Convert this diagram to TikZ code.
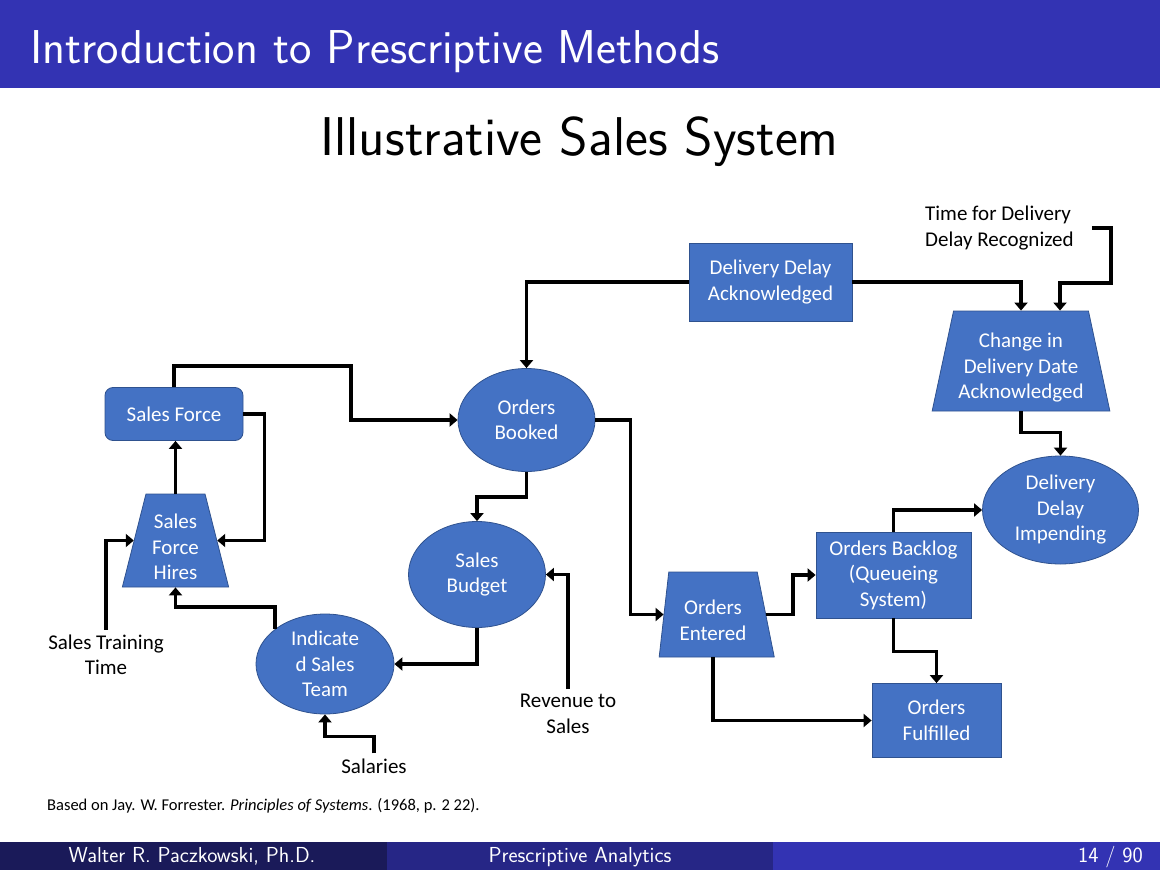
\documentclass[tikz,border=0pt]{standalone}
\usepackage{fontspec}
\newfontfamily\carlito{Carlito}
\usetikzlibrary{shapes.geometric,arrows.meta}

\definecolor{headblue}{RGB}{51,51,179}
\definecolor{footdark}{RGB}{26,26,89}
\definecolor{footmid}{RGB}{38,38,134}
\definecolor{nodeblue}{HTML}{4472C4}
\definecolor{nodeedge}{HTML}{2F528F}

\begin{document}
\begin{tikzpicture}[x=1pt,y=-1pt,
  diag/.style={font=\carlito\fontsize{21}{25.5}\selectfont},
  blk/.style={diag, draw=nodeedge, line width=0.8pt, fill=nodeblue,
    text=white, align=center, inner sep=0pt},
  rectblk/.style={blk, rectangle},
  ellblk/.style={blk, ellipse},
  trapblk/.style={blk, trapezium, trapezium stretches=true},
  lbl/.style={diag, text=black, align=center, inner sep=5pt},
  arr/.style={line width=3.8pt, -{Triangle[length=8pt,width=13pt]}},
  foottext/.style={inner sep=0pt, text=white, font=\sffamily\fontsize{21.7}{24}\selectfont}
]
\useasboundingbox (0,0) rectangle (1160,870);

% slide frame: title bar and footline
\fill[headblue] (0,0) rectangle (1160,88);
\node[anchor=base west, inner sep=0pt, text=white,
  font=\sffamily\fontsize{47.5}{52}\selectfont] (ftitle) at (30,63)
  {Introduction to Prescriptive Methods};
\node[anchor=base, inner sep=0pt,
  font=\sffamily\fontsize{54.6}{62}\selectfont] (subtitle) at (579.5,155)
  {Illustrative Sales System};

\fill[footdark] (0,842) rectangle (387,870);
\fill[footmid] (387,842) rectangle (773,870);
\fill[headblue] (773,842) rectangle (1160,870);
\node[foottext, anchor=base] (fauthor) at (192,862) {Walter R. Paczkowski, Ph.D.};
\node[foottext, anchor=base] (fshort) at (580,862) {Prescriptive Analytics};
\node[foottext, anchor=base east] (fpage) at (1143,862) {14 / 90};

\node[anchor=base west, inner sep=0pt,
  font=\carlito\fontsize{16.5}{19}\selectfont] (source) at (47,810)
  {Based on Jay. W. Forrester. \textit{Principles of Systems}. (1968, p. 2 22).};

% stocks, flows and auxiliaries
\node[rectblk, minimum width=163pt, minimum height=78pt] (dda) at (770.5,282)
  {Delivery Delay\\Acknowledged};
\node[lbl, anchor=west, align=left] (tdd) at (920,228)
  {Time for Delivery\\Delay Recognized};
\node[trapblk, trapezium left angle=76.5, trapezium right angle=76.5,
  minimum width=178pt, minimum height=100pt] (cdd) at (1021,361)
  {\rule{0pt}{28pt}Change in\\Delivery Date\\Acknowledged};
\node[ellblk, minimum width=156pt, minimum height=108pt] (ddi) at (1060.5,510)
  {Delivery\\Delay\\Impending};

\node[rectblk, rounded corners=8pt, minimum width=138pt, minimum height=53pt]
  (sf) at (174,414) {Sales Force};
\node[ellblk, minimum width=137pt, minimum height=103pt] (ob) at (526.5,420)
  {Orders\\Booked};
\node[trapblk, trapezium left angle=76.7, trapezium right angle=76.7,
  minimum width=107pt, minimum height=93pt] (shf) at (175.5,540.5)
  {\rule{0pt}{28pt}Sales\\Force\\Hires};
\node[ellblk, minimum width=137pt, minimum height=106pt] (sb) at (477,574.5)
  {Sales\\Budget};
\node[ellblk, minimum width=138pt, minimum height=100pt] (ist) at (325,664)
  {Indicate\\d Sales\\Team};

\node[trapblk, trapezium left angle=82, trapezium right angle=76,
  minimum width=116pt, minimum height=85pt] (oe) at (713,614.5)
  {\rule{0pt}{26pt}Orders\\Entered};
\node[rectblk, minimum width=155pt, minimum height=86pt] (obk) at (893.5,575)
  {Orders Backlog\\(Queueing\\System)};
\node[rectblk, minimum width=129pt, minimum height=74pt] (of) at (936.5,720.5)
  {Orders\\Fulfilled};

\node[lbl] (stt) at (106,655) {Sales Training\\Time};
\node[lbl] (rts) at (568,714) {Revenue to\\Sales};
\node[lbl] (sal) at (374,766) {Salaries};

% connectors
\draw[arr] (dda.west) -| (ob.north);
\draw[arr] (dda.east) -| (cdd.north);
\draw[arr] ([xshift=13pt]tdd.east) -- ++(19,0) |- ([xshift=39pt]cdd.north |- 0,283)
  -- ([xshift=39pt]cdd.north);
\draw[arr] (cdd.south) -- ++(0,21) -| (ddi.north);

\draw[arr] (sf.north) |- (351,366) |- (ob.west);
\draw[arr] (sf.east) -- ++(21,0) |- (shf.east);
\draw[arr] (shf.north) -- (shf.north |- sf.south);
\draw[arr] (stt.north) |- (shf.west);
\draw[arr] (ist.145) -- ++(0,-22) -| (shf.south);
\draw[arr] (ob.south) -- ++(0,25) -| (sb.north);
\draw[arr] (ob.east) -- ++(35,0) |- (oe.west);
\draw[arr] (sb.south) |- (ist.east);
\draw[arr] (rts.north) |- (sb.east);
\draw[arr] (sal.north) -- ++(0,-17) -| (ist.south);

\draw[arr] (oe.east) -- ++(27,0) |- (obk.west);
\draw[arr] (oe.south) |- (of.west);
\draw[arr] (obk.south) -- ++(0,33) -| (of.north);
\draw[arr] (obk.north) |- (ddi.west);
\end{tikzpicture}
\end{document}
